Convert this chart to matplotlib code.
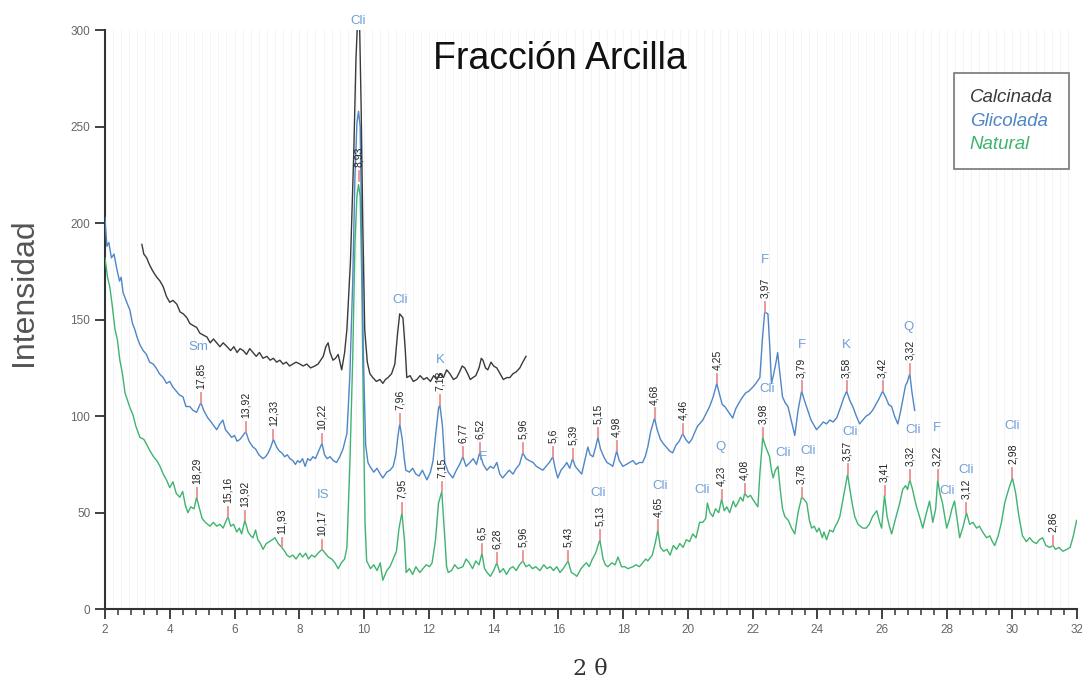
import matplotlib
matplotlib.use("Agg")
import matplotlib.pyplot as plt
from matplotlib.ticker import MultipleLocator

# ---------------- data ----------------
natural_x = [2.0, 2.08, 2.15, 2.22, 2.31, 2.38, 2.46, 2.54, 2.62, 2.7, 2.78, 2.86, 2.95, 3.08, 3.2, 3.3, 3.39, 3.5,
             3.6, 3.7, 3.8, 3.9, 4.0, 4.1, 4.2, 4.31, 4.4, 4.48, 4.56, 4.65, 4.75, 4.83, 4.92, 5.0, 5.1, 5.24, 5.35,
             5.45, 5.55, 5.65, 5.72, 5.8, 5.88, 5.97, 6.07, 6.15, 6.22, 6.32, 6.42, 6.5, 6.57, 6.65, 6.72, 6.8, 6.88,
             6.98, 7.08, 7.17, 7.25, 7.35, 7.46, 7.55, 7.62, 7.7, 7.8, 7.9, 8.02, 8.1, 8.2, 8.28, 8.38, 8.48, 8.58,
             8.7, 8.8, 8.9, 9.0, 9.1, 9.2, 9.3, 9.4, 9.47, 9.56, 9.65, 9.72, 9.78, 9.83, 9.88, 9.93, 9.98, 10.03,
             10.08, 10.2, 10.3, 10.4, 10.5, 10.58, 10.7, 10.8, 10.9, 11.0, 11.08, 11.17, 11.25, 11.3, 11.4, 11.5,
             11.6, 11.72, 11.82, 11.92, 12.02, 12.1, 12.2, 12.3, 12.4, 12.48, 12.55, 12.6, 12.7, 12.8, 12.9, 13.05,
             13.15, 13.25, 13.35, 13.45, 13.55, 13.64, 13.72, 13.8, 13.9, 14.0, 14.1, 14.19, 14.3, 14.4, 14.5, 14.6,
             14.7, 14.8, 14.9, 15.0, 15.1, 15.2, 15.3, 15.43, 15.55, 15.65, 15.75, 15.85, 15.95, 16.05, 16.15, 16.3,
             16.4, 16.5, 16.57, 16.7, 16.8, 16.87, 16.95, 17.05, 17.15, 17.28, 17.38, 17.45, 17.53, 17.65, 17.75,
             17.84, 17.95, 18.05, 18.15, 18.3, 18.4, 18.5, 18.6, 18.7, 18.76, 18.9, 19.0, 19.07, 19.15, 19.25,
             19.35, 19.45, 19.55, 19.65, 19.75, 19.85, 19.95, 20.05, 20.15, 20.25, 20.36, 20.46, 20.55, 20.6,
             20.68, 20.77, 20.85, 20.95, 21.04, 21.12, 21.2, 21.29, 21.4, 21.47, 21.54, 21.62, 21.7, 21.75, 21.85,
             21.93, 22.0, 22.08, 22.16, 22.22, 22.31, 22.38, 22.45, 22.52, 22.58, 22.63, 22.7, 22.78, 22.85, 22.92,
             22.99, 23.1, 23.2, 23.3, 23.4, 23.51, 23.58, 23.67, 23.75, 23.82, 23.9, 23.98, 24.05, 24.15, 24.2,
             24.28, 24.38, 24.48, 24.55, 24.62, 24.69, 24.8, 24.93, 25.0, 25.08, 25.15, 25.25, 25.32, 25.4, 25.5,
             25.6, 25.7, 25.83, 25.92, 25.98, 26.07, 26.15, 26.22, 26.29, 26.38, 26.46, 26.54, 26.63, 26.72, 26.78,
             26.85, 26.92, 27.0, 27.06, 27.15, 27.25, 27.35, 27.46, 27.56, 27.65, 27.71, 27.78, 27.86, 27.93, 27.99,
             28.08, 28.15, 28.23, 28.3, 28.39, 28.5, 28.6, 28.7, 28.8, 28.91, 29.0, 29.1, 29.22, 29.32, 29.4, 29.47,
             29.58, 29.68, 29.78, 29.9, 30.02, 30.12, 30.22, 30.33, 30.45, 30.55, 30.65, 30.76, 30.85, 30.95, 31.05,
             31.17, 31.27, 31.35, 31.45, 31.58, 31.7, 31.8, 31.9, 32.0]
natural_y = [182, 172, 167, 158, 145, 140, 129, 122, 112, 108, 104, 101, 95, 89, 88, 85, 82, 79,
             77, 74, 70, 67, 63, 66, 60, 58, 61, 54, 50, 53, 52, 58, 52, 47, 45, 43, 45,
             43, 44, 42, 45, 48, 43, 44, 40, 42, 39, 46, 40, 38, 37, 41, 36, 34, 31,
             34, 35, 36, 37, 34, 32, 30, 28, 27, 28, 26, 29, 27, 29, 26, 28, 27, 29,
             31, 29, 27, 26, 24, 21, 24, 26, 32, 74, 130, 190, 214, 220, 214, 170, 100, 45,
             25, 21, 23, 20, 24, 15, 20, 22, 26, 30, 42, 50, 35, 19, 21, 18,
             22, 19, 21, 23, 22, 24, 35, 55, 61, 40, 22, 19, 20, 23, 21, 22,
             26, 24, 21, 25, 23, 29, 21, 19, 17, 20, 24, 19, 21, 18, 21, 22,
             20, 23, 25, 22, 23, 21, 22, 20, 23, 21, 22, 20, 22, 19, 21, 25,
             19, 18, 17, 21, 23, 24, 22, 26, 29, 36, 26, 23, 22, 24, 23,
             27, 22, 22, 21, 22, 23, 22, 24, 26, 25, 28, 35, 41, 32, 30,
             31, 28, 33, 31, 34, 32, 36, 35, 39, 37, 45, 45, 47, 55,
             50, 48, 52, 50, 57, 51, 53, 50, 56, 53, 55, 58, 56, 60, 58,
             59, 57, 55, 53, 70, 89, 85, 82, 79, 72, 68, 72, 74, 62, 52,
             48, 46, 42, 39, 50, 58, 57, 55, 46, 42, 43, 40, 42, 37, 40,
             36, 41, 40, 43, 45, 48, 58, 70, 62, 54, 48, 44, 43, 42, 42,
             44, 48, 51, 45, 42, 59, 48, 43, 39, 45, 50, 55, 62, 64, 62,
             67, 63, 57, 53, 48, 42, 49, 56, 45, 52, 67, 60, 55, 48, 42,
             47, 52, 56, 48, 37, 43, 50, 44, 45, 42, 43, 40, 37, 38, 35, 33,
             38, 45, 55, 62, 68, 60, 48, 38, 35, 37, 35, 34, 36, 37, 33,
             32, 33, 31, 32, 30, 31, 32, 38, 46]

glicolada_x = [2.0, 2.06, 2.12, 2.2, 2.28, 2.37, 2.45, 2.5, 2.56, 2.65, 2.72, 2.77, 2.85, 2.92, 2.99, 3.08, 3.18,
               3.28, 3.38, 3.49, 3.58, 3.68, 3.8, 3.9, 4.0, 4.1, 4.2, 4.3, 4.41, 4.5, 4.62, 4.72, 4.83, 4.96, 5.05,
               5.18, 5.28, 5.36, 5.45, 5.55, 5.64, 5.72, 5.82, 5.91, 6.0, 6.08, 6.17, 6.26, 6.35, 6.45, 6.57, 6.65,
               6.75, 6.88, 6.96, 7.04, 7.12, 7.2, 7.3, 7.38, 7.46, 7.55, 7.63, 7.71, 7.8, 7.88, 7.95, 8.02, 8.1,
               8.18, 8.26, 8.34, 8.42, 8.5, 8.6, 8.7, 8.78, 8.86, 8.95, 9.05, 9.15, 9.25, 9.35, 9.47, 9.56, 9.65,
               9.72, 9.78, 9.83, 9.88, 9.93, 9.98, 10.05, 10.12, 10.18, 10.3, 10.4, 10.5, 10.58, 10.7, 10.8, 10.9,
               10.98, 11.05, 11.1, 11.18, 11.24, 11.29, 11.4, 11.5, 11.6, 11.7, 11.8, 11.94, 12.05, 12.13, 12.22,
               12.3, 12.34, 12.42, 12.49, 12.6, 12.74, 12.85, 12.95, 13.05, 13.15, 13.27, 13.37, 13.47, 13.57,
               13.68, 13.79, 13.9, 14.0, 14.1, 14.19, 14.28, 14.38, 14.48, 14.6, 14.7, 14.8, 14.9, 15.0, 15.1,
               15.22, 15.32, 15.42, 15.52, 15.62, 15.72, 15.83, 15.9, 15.98, 16.08, 16.18, 16.26, 16.35, 16.44,
               16.52, 16.62, 16.72, 16.8, 16.91, 16.98, 17.07, 17.15, 17.22, 17.3, 17.4, 17.5, 17.6, 17.68, 17.8,
               17.88, 17.99, 18.1, 18.2, 18.3, 18.4, 18.5, 18.6, 18.68, 18.76, 18.85, 18.97, 19.05, 19.15, 19.23,
               19.33, 19.43, 19.53, 19.63, 19.73, 19.84, 19.93, 20.03, 20.12, 20.22, 20.3, 20.36, 20.46, 20.55,
               20.67, 20.78, 20.89, 20.98, 21.06, 21.14, 21.22, 21.3, 21.38, 21.48, 21.58, 21.69, 21.78, 21.88,
               22.0, 22.1, 22.22, 22.3, 22.37, 22.47, 22.53, 22.58, 22.65, 22.72, 22.77, 22.84, 22.92, 23.0, 23.09,
               23.2, 23.3, 23.4, 23.51, 23.6, 23.7, 23.8, 23.9, 23.97, 24.08, 24.18, 24.28, 24.38, 24.48, 24.59,
               24.7, 24.8, 24.9, 25.0, 25.09, 25.2, 25.3, 25.4, 25.5, 25.6, 25.7, 25.8, 25.9, 26.01, 26.1, 26.2,
               26.29, 26.38, 26.48, 26.56, 26.65, 26.72, 26.78, 26.85, 26.92, 27.0]
glicolada_y = [203, 188, 190, 182, 184, 176, 170, 172, 164, 160, 157, 155, 148, 145, 141, 137, 134,
               132, 128, 127, 125, 122, 120, 117, 118, 115, 113, 111, 110, 105, 105, 103, 102, 107, 103,
               99, 97, 95, 93, 96, 98, 93, 91, 89, 90, 87, 88, 90, 92, 87, 84, 83,
               80, 78, 79, 81, 84, 88, 84, 82, 81, 79, 80, 78, 77, 75, 77, 76, 78,
               74, 78, 77, 79, 78, 82, 86, 80, 78, 79, 77, 76, 79, 83, 91, 120, 170,
               225, 252, 258, 250, 190, 130, 85, 76, 74, 71, 73, 70, 68, 71, 72, 74,
               80, 90, 96, 88, 78, 72, 71, 73, 70, 69, 72, 67, 71, 77, 92,
               104, 106, 95, 76, 71, 68, 72, 75, 79, 74, 76, 78, 75, 81,
               75, 72, 74, 73, 76, 70, 68, 70, 72, 70, 73, 75, 81, 78, 77,
               76, 74, 73, 72, 74, 76, 79, 73, 68, 72, 74, 76, 73, 78,
               74, 72, 70, 76, 84, 80, 79, 84, 89, 83, 79, 76, 75, 74, 82,
               77, 74, 75, 76, 77, 75, 76, 76, 79, 84, 92, 99, 93, 88, 86,
               84, 82, 81, 85, 87, 91, 88, 86, 88, 92, 95, 96, 98, 101,
               105, 110, 117, 111, 106, 105, 103, 101, 99, 104, 107, 110, 112, 113,
               115, 117, 120, 140, 154, 153, 135, 117, 122, 128, 133, 122, 110, 107, 105,
               97, 90, 103, 113, 108, 103, 98, 95, 93, 95, 97, 96, 98, 97, 99,
               104, 109, 113, 108, 105, 100, 96, 98, 100, 101, 103, 106, 109, 113, 110, 106,
               105, 100, 96, 102, 110, 116, 118, 122, 112, 103]

calcinada_x = [3.14, 3.2, 3.29, 3.36, 3.45, 3.52, 3.6, 3.7, 3.8, 3.9, 4.0, 4.1, 4.22, 4.32, 4.42, 4.53, 4.62,
               4.72, 4.83, 4.93, 5.04, 5.15, 5.25, 5.35, 5.45, 5.55, 5.65, 5.77, 5.88, 5.98, 6.08, 6.17, 6.27,
               6.37, 6.47, 6.57, 6.67, 6.77, 6.88, 7.0, 7.1, 7.2, 7.3, 7.4, 7.5, 7.6, 7.7, 7.8, 7.9, 8.02, 8.12,
               8.23, 8.35, 8.48, 8.58, 8.66, 8.74, 8.82, 8.89, 8.95, 9.04, 9.12, 9.2, 9.31, 9.4, 9.47, 9.58, 9.68,
               9.75, 9.8, 9.83, 9.86, 9.91, 9.96, 10.02, 10.1, 10.18, 10.27, 10.38, 10.49, 10.58, 10.66, 10.74,
               10.85, 10.95, 11.03, 11.1, 11.2, 11.27, 11.32, 11.42, 11.52, 11.63, 11.73, 11.84, 11.94, 12.05,
               12.15, 12.25, 12.35, 12.45, 12.55, 12.65, 12.76, 12.86, 12.95, 13.03, 13.11, 13.2, 13.28, 13.36,
               13.45, 13.55, 13.62, 13.67, 13.75, 13.82, 13.92, 14.0, 14.1, 14.2, 14.3, 14.41, 14.5, 14.6, 14.7,
               14.81, 14.9, 15.0]
calcinada_y = [189, 184, 182, 179, 176, 174, 172, 170, 167, 162, 159, 160, 158, 154, 153, 151, 148,
               147, 146, 143, 142, 141, 138, 140, 138, 136, 138, 136, 134, 136, 133, 135, 134,
               132, 135, 133, 131, 133, 130, 131, 129, 130, 128, 129, 127, 128, 126, 127, 128, 127, 126,
               127, 125, 126, 127, 129, 131, 136, 138, 133, 129, 130, 132, 124, 133, 145, 180, 235,
               285, 305, 312, 305, 260, 200, 145, 128, 122, 120, 118, 119, 117, 119, 120,
               122, 127, 142, 153, 151, 135, 120, 121, 118, 119, 121, 119, 120, 118,
               121, 119, 122, 120, 124, 122, 119, 120, 123, 126, 125, 122, 119, 120,
               121, 125, 130, 129, 125, 124, 128, 126, 125, 122, 119, 120, 120, 122, 123,
               125, 128, 131]

# d-spacing annotations (position of peak, label)
ann_glic_x = [4.96, 6.35, 7.2, 8.7, 11.1, 12.34, 13.05, 13.57, 14.9, 15.83, 16.44, 17.22, 17.8, 18.97, 19.84,
              20.89, 22.37, 23.51, 24.9, 26.01, 26.85]
ann_glic_y = [107, 92, 88, 86, 96, 106, 79, 81, 81, 79, 78, 89, 82, 99, 91, 117, 154, 113, 113, 113, 122]
ann_glic_txt = ["17,85", "13,92", "12,33", "10,22", "7,96", "7,18", "6,77", "6,52", "5,96", "5,6", "5,39", "5,15",
                "4,98", "4,68", "4,46", "4,25", "3,97", "3,79", "3,58", "3,42", "3,32"]

ann_nat_x = [4.83, 5.8, 6.32, 7.46, 8.7, 11.17, 12.4, 13.64, 14.1, 14.9, 16.3, 17.28, 19.07, 21.04, 21.75, 22.31,
             23.51, 24.93, 26.07, 26.85, 27.71, 28.6, 30.02, 31.27]
ann_nat_y = [58, 48, 46, 32, 31, 50, 61, 29, 24, 25, 25, 36, 41, 57, 60, 89, 58, 70, 59, 67, 67, 50, 68, 33]
ann_nat_txt = ["18,29", "15,16", "13,92", "11,93", "10,17", "7,95", "7,15", "6,5", "6,28", "5,96", "5,43", "5,13",
               "4,65", "4,23", "4,08", "3,98", "3,78", "3,57", "3,41", "3,32", "3,22", "3,12", "2,98", "2,86"]

ann_main_x = [9.83]
ann_main_y = [222]
ann_main_txt = ["8,93"]

# mineral labels
min_x = [9.83, 11.1, 4.87, 12.34, 13.66, 8.72, 17.22, 19.15, 20.45, 21.0, 22.37, 22.45, 22.95, 23.7, 23.51,
         24.9, 26.8, 25.0, 26.95, 27.68, 28.0, 28.6, 30.02]
min_y = [305, 160, 136, 129, 79, 59, 60, 64, 62, 84, 181, 114, 81, 82, 137, 137, 146, 92, 93, 94, 61, 72, 95]
min_txt = ["Cli", "Cli", "Sm", "K", "F", "IS", "Cli", "Cli", "Cli", "Q", "F", "Cli", "Cli", "Cli", "F",
           "K", "Q", "Cli", "Cli", "F", "Cli", "Cli", "Cli"]

series_names = ["Calcinada", "Glicolada", "Natural"]
x_ticks = list(range(2, 33, 2))
y_ticks = [0, 50, 100, 150, 200, 250, 300]

# ---------------- styling ----------------
c_cal = "#3a3a3a"
c_gli = "#4f86c6"
c_nat = "#3fb370"
c_min = "#6f9fd8"
c_mark = "#e89090"

fig = plt.figure(figsize=(10.82, 6.86), dpi=100)
ax = fig.add_axes([0.097, 0.112, 0.898, 0.844])

# faint vertical background lines
for gx in [2 + 0.25 * i for i in range(121)]:
    ax.axvline(gx, color="#f4f4f4", lw=0.7, zorder=0)

ax.plot(natural_x, natural_y, color=c_nat, lw=1.0, zorder=3)
ax.plot(glicolada_x, glicolada_y, color=c_gli, lw=1.0, zorder=4)
ax.plot(calcinada_x, calcinada_y, color=c_cal, lw=1.0, zorder=5)

def annotate(xs, ys, ts):
    for x, y, t in zip(xs, ys, ts):
        ax.plot([x, x], [y, y + 5], color=c_mark, lw=1.3, zorder=6)
        ax.text(x, y + 7, t, rotation=90, ha="center", va="bottom", fontsize=7.5,
                color="#222222", family="Liberation Sans", zorder=7)

annotate(ann_glic_x, ann_glic_y, ann_glic_txt)
annotate(ann_nat_x, ann_nat_y, ann_nat_txt)
annotate(ann_main_x, ann_main_y, ann_main_txt)

for x, y, t in zip(min_x, min_y, min_txt):
    ax.text(x, y, t, ha="center", va="center", fontsize=9.5, color=c_min,
            family="Liberation Sans", zorder=8, clip_on=False)

ax.set_xlim(2, 32)
ax.set_ylim(0, 300)
ax.set_xticks(x_ticks)
ax.set_yticks(y_ticks)
ax.xaxis.set_minor_locator(MultipleLocator(0.4))
for s in ["top", "right"]:
    ax.spines[s].set_visible(False)
for s in ["left", "bottom"]:
    ax.spines[s].set_color("#333333")
    ax.spines[s].set_linewidth(1.5)
ax.tick_params(axis="both", which="major", direction="out", length=7, width=1.3, color="#333333",
               labelsize=8.5, labelcolor="#666666")
ax.tick_params(axis="x", which="minor", direction="out", length=4, width=1.1, color="#333333")
for lab in ax.get_xticklabels() + ax.get_yticklabels():
    lab.set_family("Liberation Sans")

ax.set_ylabel("Intensidad", fontsize=23, color="#555555", family="Liberation Sans")
ax.yaxis.set_label_coords(-0.068, 0.547)
ax.set_xlabel("2 θ", fontsize=16, color="#333333", family="DejaVu Serif", labelpad=16)

ax.text(0.468, 0.951, "Fracción Arcilla", transform=ax.transAxes, ha="center", va="center",
        fontsize=27, color="#111111", family="Liberation Sans")

handles = [plt.Line2D([], [], color="none") for _ in series_names]
leg = ax.legend(handles, series_names, loc="upper right", bbox_to_anchor=(0.992, 0.926),
                borderaxespad=0.0,
                frameon=True, fancybox=False, edgecolor="#555555", handlelength=0, handletextpad=0,
                labelcolor=[c_cal, c_gli, c_nat], borderpad=0.85, labelspacing=0.35,
                prop={"family": "Liberation Sans", "style": "italic", "size": 13.5})
leg.get_frame().set_linewidth(1.2)

fig.savefig("out.png", dpi=100)
